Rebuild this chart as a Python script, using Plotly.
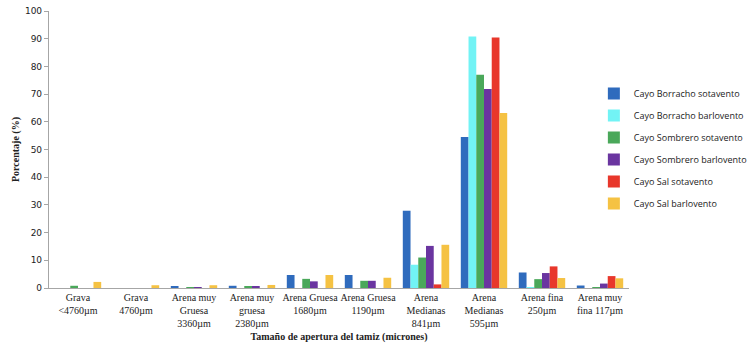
import plotly.graph_objects as go

categories = [
    "Grava<br>&lt;4760µm",
    "Grava<br>4760µm",
    "Arena muy<br>Gruesa<br>3360µm",
    "Arena muy<br>gruesa<br>2380µm",
    "Arena Gruesa<br>1680µm",
    "Arena Gruesa<br>1190µm",
    "Arena<br>Medianas<br>841µm",
    "Arena<br>Medianas<br>595µm",
    "Arena fina<br>250µm",
    "Arena muy<br>fina 117µm",
]

borracho_sotavento = [0, 0, 0.4, 0.8, 4.7, 4.7, 27.9, 54.5, 5.6, 0.9]
borracho_barlovento = [0, 0, 0, 0, 0, 0, 8.4, 90.8, 0.3, 0]
sombrero_sotavento = [0.8, 0, 0.3, 0.7, 3.3, 2.6, 11.0, 77.0, 3.2, 0.3]
sombrero_barlovento = [0, 0, 0.3, 0.4, 2.4, 2.6, 15.2, 71.8, 5.4, 1.6]
sal_sotavento = [0, 0, 0, 0, 0, 0, 1.3, 90.4, 7.8, 4.3]
sal_barlovento = [2.2, 1.0, 1.0, 1.1, 4.7, 3.7, 15.6, 63.2, 3.6, 3.5]

series = [
    ("Cayo Borracho sotavento", borracho_sotavento, "#2f6bbd"),
    ("Cayo Borracho barlovento", borracho_barlovento, "#72f3f5"),
    ("Cayo Sombrero sotavento", sombrero_sotavento, "#4aa85a"),
    ("Cayo Sombrero barlovento", sombrero_barlovento, "#6a35a0"),
    ("Cayo Sal sotavento", sal_sotavento, "#e8372b"),
    ("Cayo Sal barlovento", sal_barlovento, "#f5c243"),
]

fig = go.Figure()
for i, (name, vals, col) in enumerate(series):
    fig.add_trace(go.Bar(
        x=categories, y=vals, name=name,
        marker=dict(color=col, line=dict(width=0)),
        legendgroup=str(i),
    ))

fig.update_layout(
    width=747, height=353,
    margin=dict(l=49, r=118, t=11, b=65, autoexpand=False),
    paper_bgcolor="white", plot_bgcolor="white",
    barmode="group", bargap=0.2, bargroupgap=0,
    showlegend=True,
    legend=dict(
        xref="container", yref="container",
        x=0.795, y=0.776, xanchor="left", yanchor="top",
        font=dict(family="Open Sans", size=9, color="#222"),
        traceorder="grouped", tracegroupgap=3,
        itemwidth=30, bgcolor="rgba(0,0,0,0)",
    ),
    font=dict(family="Liberation Serif", size=10, color="#222"),
)

fig.update_xaxes(
    showline=True, linecolor="#a6a6a6", linewidth=1.2,
    ticks="", showgrid=False, tickangle=0,
    tickfont=dict(family="Liberation Serif", size=10, color="#222"),
    title=dict(text="<b>Tamaño de apertura del tamiz (micrones)</b>",
               font=dict(family="Liberation Serif", size=10, color="#222"),
               standoff=4),
)
fig.update_yaxes(
    range=[0, 100], dtick=10, showgrid=False, zeroline=False,
    showline=True, linecolor="#a6a6a6", linewidth=1.2,
    ticks="outside", ticklen=4, tickcolor="#a6a6a6",
    tickfont=dict(family="DejaVu Sans", size=9, color="#222"),
    title=dict(text="<b>Porcentaje (%)</b>",
               font=dict(family="Liberation Serif", size=10, color="#222"),
               standoff=3),
)

fig.write_html("out.html")
